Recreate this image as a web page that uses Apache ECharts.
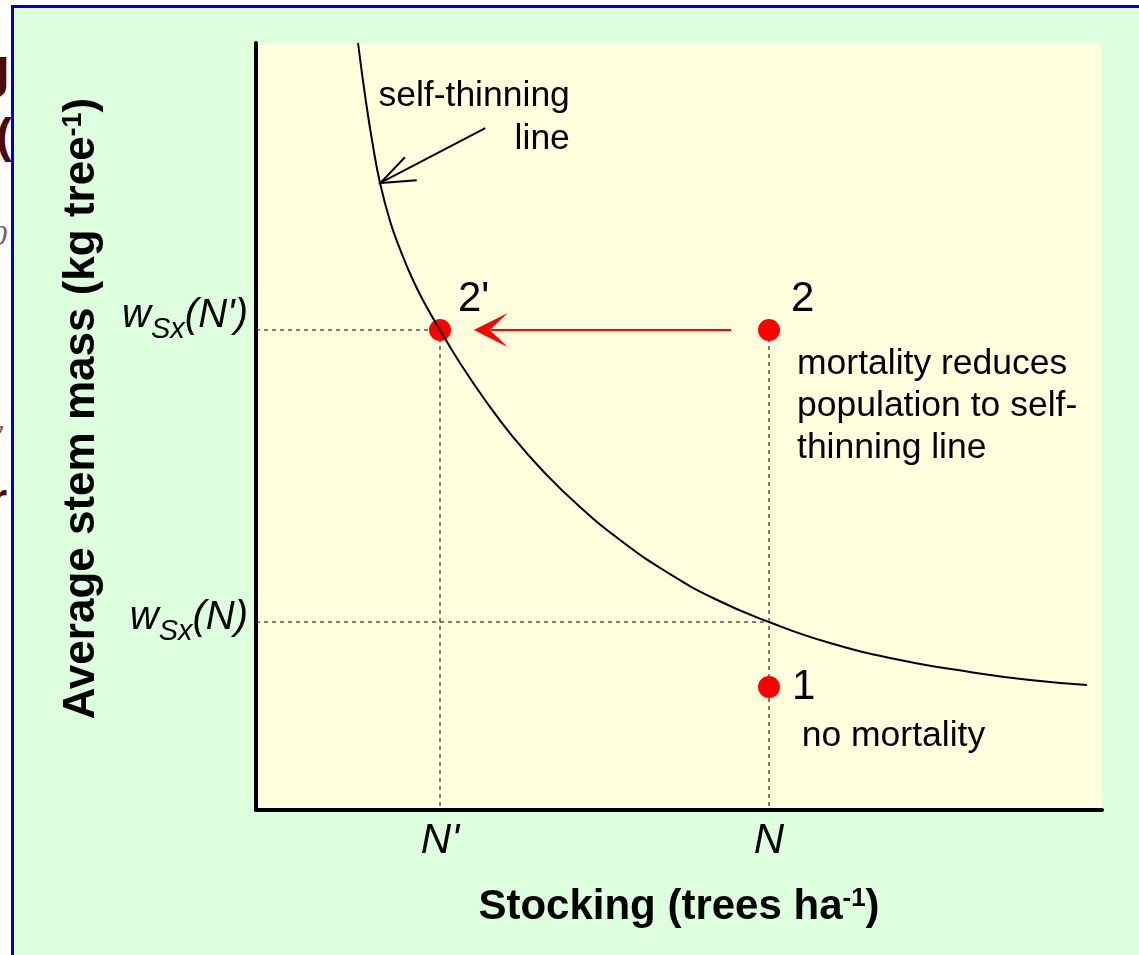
<!DOCTYPE html>
<html>
<head>
<meta charset="utf-8">
<script src="https://cdn.jsdelivr.net/npm/echarts@6/dist/echarts.min.js"></script>
<style>
html, body { margin: 0; padding: 0; background: #fff; }
#wrap { position: relative; width: 1139px; height: 955px; overflow: hidden; }
#behind { position: absolute; left: 0; top: 0; width: 11px; height: 955px; overflow: hidden; color: #4d0c0c; }
#behind span { position: absolute; white-space: nowrap; }
#panel { position: absolute; left: 11px; top: 5px; right: 0; bottom: 0;
         border-left: 3px solid #0000cc; border-top: 3px solid #0000cc; background: #ddffdd; }
#chart { position: absolute; left: 0; top: 0; width: 1139px; height: 955px; }
</style>
</head>
<body>
<div id="wrap">
  <!-- bits of the slide underneath, cut off by the panel -->
  <div id="behind">
    <span style="left:-24px; top:34px; font: bold 56px 'Liberation Sans', Arial, sans-serif;">g</span>
    <span style="left:-4px; top:108px; font: bold 48px 'Liberation Sans', Arial, sans-serif;">(k</span>
    <span style="left:-8px; top:218px; font: italic 30px 'Liberation Serif', serif; color:#7a5a5a;">0</span>
    <span style="left:-12px; top:412px; font: italic 34px 'Liberation Serif', serif; color:#7a5a5a;">y</span>
    <span style="left:-10px; top:474px; font: bold 44px 'Liberation Sans', Arial, sans-serif;">r</span>
  </div>
  <div id="panel"></div>
  <div id="chart"></div>
</div>
<script>
var FONT = "'Liberation Sans', Arial, sans-serif";

// self-thinning line
var curveX = [12.06, 13.00, 13.83, 14.66, 15.84, 17.02, 18.44, 19.98, 21.75, 24.11, 27.07, 30.38, 33.92,
              38.30, 43.03, 48.35, 54.26, 60.64, 67.85, 76.12, 84.40, 91.49, 98.23];
var curveY = [100.0, 92.31, 86.57, 81.75, 76.79, 73.14, 69.36, 65.97, 62.58, 58.28, 53.46, 48.63, 44.20,
              39.50, 35.20, 31.16, 27.51, 24.51, 21.77, 19.56, 17.99, 16.95, 16.30];

// axis ticks
var stockingTicks = [21.75, 60.64];
var stockingLabels = ["N'", "N"];
var massTicks = [24.51, 62.58];
var massLabels = ["N", "N'"];

// stand states 1, 2, 2'
var pointX = [60.64, 60.64, 21.75];
var pointY = [16.04, 62.58, 62.58];
var pointNames = ['1', '2', "2'"];

var chart = echarts.init(document.getElementById('chart'));

var curveData = curveX.map(function (x, i) { return [x, curveY[i]]; });

// dashed guides from the axes to the states
var guides = [
    {coords: [[0, massTicks[1]], [stockingTicks[0], massTicks[1]], [stockingTicks[0], 0]]},
    {coords: [[0, massTicks[0]], [stockingTicks[1], massTicks[0]]]},
    {coords: [[stockingTicks[1], massTicks[1]], [stockingTicks[1], 0]]}
];

var pointLabels = [
    {position: 'right', distance: 12, offset: [0, 0]},
    {position: 'right', distance: 11, offset: [0, -31]},
    {position: 'right', distance: 7, offset: [0, -31]}
];
var pointData = pointX.map(function (x, i) {
    return {value: [x, pointY[i]], name: pointNames[i], label: pointLabels[i]};
});

var option = {
    backgroundColor: 'transparent',
    animation: false,
    grid: {
        left: 256, top: 43, right: 37, bottom: 145,
        show: true, backgroundColor: '#ffffdd', borderWidth: 0
    },
    xAxis: {
        type: 'value', min: 0, max: 100,
        name: 'Stocking (trees ha{sup|-1})',
        nameLocation: 'middle', nameGap: 76,
        nameTextStyle: {
            fontFamily: FONT, fontSize: 42, fontWeight: 'bold', color: '#000',
            rich: {sup: {fontFamily: FONT, fontSize: 26, fontWeight: 'bold', color: '#000', verticalAlign: 'top'}}
        },
        axisLine: {show: true, lineStyle: {color: '#000', width: 4}},
        axisTick: {show: false},
        splitLine: {show: false},
        axisLabel: {
            customValues: stockingTicks,
            margin: 10,
            fontFamily: FONT, fontSize: 42, fontStyle: 'italic', color: '#000',
            formatter: function (v) {
                return stockingLabels[stockingTicks.indexOf(v)];
            }
        }
    },
    yAxis: {
        type: 'value', min: 0, max: 100,
        name: 'Average stem mass (kg tree{sup|-1})',
        nameLocation: 'middle', nameGap: 152,
        nameTextStyle: {
            fontFamily: FONT, fontSize: 44, fontWeight: 'bold', color: '#000',
            padding: [0, 0, 0, 36],
            rich: {sup: {fontFamily: FONT, fontSize: 27, fontWeight: 'bold', color: '#000', verticalAlign: 'top'}}
        },
        axisLine: {show: true, lineStyle: {color: '#000', width: 4}},
        axisTick: {show: false},
        splitLine: {show: false},
        axisLabel: {
            customValues: massTicks,
            margin: 8,
            color: '#000',
            formatter: function (v) {
                var i = massTicks.indexOf(v);
                var k = i === 1 ? 'hi' : 'lo';
                return '{w' + k + '|w}{s' + k + '|Sx}{w' + k + '|(' + massLabels[i] + ')}';
            },
            rich: {
                whi: {fontFamily: FONT, fontSize: 40, fontStyle: 'italic', color: '#000', padding: [0, 0, 28, 0]},
                shi: {fontFamily: FONT, fontSize: 29, fontStyle: 'italic', color: '#000', verticalAlign: 'bottom', padding: [0, 0, 20, 0]},
                wlo: {fontFamily: FONT, fontSize: 40, fontStyle: 'italic', color: '#000', padding: [0, 0, 8, 0]},
                slo: {fontFamily: FONT, fontSize: 29, fontStyle: 'italic', color: '#000', verticalAlign: 'bottom', padding: [0, 0, 0, 0]}
            }
        }
    },
    series: [
        {
            type: 'lines', coordinateSystem: 'cartesian2d', polyline: true, z: 1,
            silent: true,
            lineStyle: {color: '#000', width: 1, type: [4, 4], opacity: 1},
            data: guides
        },
        {
            type: 'scatter', z: 2, symbolSize: 22,
            itemStyle: {color: '#ff0000', opacity: 1},
            label: {show: true, formatter: '{b}', fontFamily: FONT, fontSize: 42, color: '#000', opacity: 1},
            data: pointData
        },
        {
            type: 'line', z: 3, smooth: true, showSymbol: false, silent: true,
            lineStyle: {color: '#000', width: 2},
            data: curveData
        },
        {
            // mortality moves state 2 to 2'
            type: 'lines', coordinateSystem: 'cartesian2d', z: 3, silent: true,
            symbol: ['none', 'path://M0,0 L11,34 L0,16 L-11,34 Z'], symbolSize: [22, 34],
            lineStyle: {color: '#ff0000', width: 2, opacity: 1},
            data: [{coords: [[56.15, pointY[1]], [pointX[2] + 6.0, pointY[2]]]}]
        },
        {
            // pointer to the self-thinning line
            type: 'lines', coordinateSystem: 'cartesian2d', polyline: true, z: 3, silent: true,
            lineStyle: {color: '#000', width: 2, opacity: 1},
            data: [
                {coords: [[27.1, 88.9], [14.7, 81.75]]},
                {coords: [[17.6, 85.1], [14.7, 81.75], [19.0, 82.1]]}
            ]
        },
        {
            type: 'scatter', z: 4, symbolSize: 0, silent: true,
            itemStyle: {opacity: 1},
            label: {
                show: true, position: [0, 0], formatter: '{b}',
                fontFamily: FONT, fontSize: 35.5, lineHeight: 42, color: '#000', opacity: 1
            },
            data: [
                {name: 'self-thinning\nline', value: [37.1, 90.3], label: {align: 'right', verticalAlign: 'middle', lineHeight: 43}},
                {name: 'mortality reduces\npopulation to self-\nthinning line', value: [63.95, 52.7], label: {align: 'left', verticalAlign: 'middle'}},
                {name: 'no mortality', value: [64.5, 9.6], label: {align: 'left', verticalAlign: 'middle'}}
            ]
        }
    ]
};

chart.setOption(option);
</script>
</body>
</html>
